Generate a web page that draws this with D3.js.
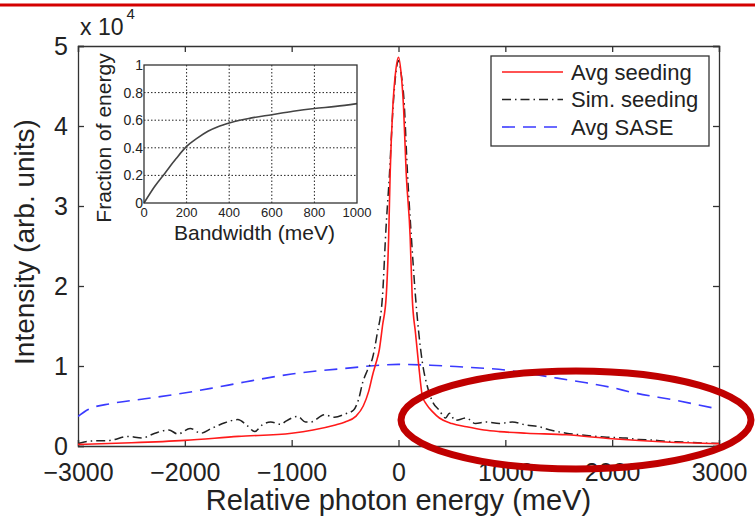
<!DOCTYPE html>
<html>
<head>
<meta charset="utf-8">
<script src="https://cdn.jsdelivr.net/npm/d3@7"></script>
<style>
  html, body { margin: 0; padding: 0; background: #fff; }
  svg { display: block; }
  text { font-family: "Liberation Sans", Arial, Helvetica, sans-serif; fill: #222; }
</style>
</head>
<body>
<svg id="chart" width="755" height="522"></svg>
<script>
// ---------------- DATA ----------------
// Main chart: intensity (x 10^4 arb. units) vs relative photon energy (meV)
const avgSeedX = [-3000,-2500,-2000,-1500,-1000,-800,-600,-500,-400,-330,-280,-240,-210,-180,-150,-115,-92,-78,-53,-25,0,25,47,72,109,128,160,187,224,262,318,383,500,636,800,944,1200,1570,2000,2500,3000];
const avgSeedY = [0.02,0.04,0.07,0.12,0.16,0.2,0.26,0.3,0.37,0.5,0.68,0.9,1.04,1.2,1.5,1.87,2.62,3.41,4.24,4.7,4.86,4.65,4.24,3.41,2.62,1.87,1.4,1.04,0.62,0.52,0.43,0.35,0.28,0.24,0.2,0.18,0.16,0.14,0.09,0.05,0.03];

const simSeedX = [-3000,-2900,-2700,-2533,-2400,-2280,-2150,-2065,-1950,-1850,-1750,-1626,-1505,-1420,-1346,-1280,-1196,-1100,-1065,-944,-870,-822,-692,-600,-500,-420,-370,-336,-290,-243,-200,-150,-118,-84,-55,-28,0,25,50,84,120,159,224,271,320,380,440,477,530,636,720,822,944,1065,1200,1318,1420,1570,1700,1813,1950,2131,2250,2374,2500,2654,2800,3000];
const simSeedY = [0.03,0.06,0.07,0.12,0.1,0.16,0.2,0.15,0.22,0.16,0.22,0.29,0.33,0.26,0.18,0.26,0.3,0.27,0.3,0.37,0.3,0.3,0.39,0.36,0.4,0.45,0.6,0.79,0.95,1.1,1.4,1.87,2.7,3.41,4.15,4.62,4.82,4.65,4.35,3.41,2.62,1.87,1.04,0.74,0.55,0.45,0.35,0.41,0.32,0.35,0.28,0.3,0.28,0.3,0.26,0.24,0.2,0.16,0.14,0.125,0.11,0.1,0.08,0.075,0.06,0.05,0.04,0.03];

const saseX = [-3000,-2900,-2690,-2374,-2065,-1757,-1439,-1000,-500,0,300,570,1000,1383,1757,2000,2187,2598,3000];
const saseY = [0.37,0.46,0.53,0.59,0.65,0.72,0.8,0.9,0.97,1.02,1.01,0.99,0.95,0.87,0.79,0.73,0.67,0.57,0.46];

const xTicks = [-3000,-2000,-1000,0,1000,2000,3000];
const yTicks = [0,1,2,3,4,5];
const legendLabels = ["Avg seeding","Sim. seeding","Avg SASE"];

// Inset: fraction of energy vs bandwidth (meV)
const bwX = [0,50,100,150,200,250,300,350,400,450,500,600,700,800,900,1000];
const fracY = [0,0.12,0.22,0.32,0.41,0.47,0.52,0.555,0.58,0.60,0.615,0.64,0.665,0.685,0.70,0.72];
const insetXTicks = [0,200,400,600,800,1000];
const insetYTicks = [0,0.2,0.4,0.6,0.8,1];

// ---------------- DRAW ----------------
const svg = d3.select("#chart");
const W = 755, H = 522;
const plot = {left: 78, right: 719, top: 46, bottom: 446};

const x = d3.scaleLinear().domain([-3000, 3000]).range([plot.left, plot.right]);
const y = d3.scaleLinear().domain([0, 5]).range([plot.bottom, plot.top]);

svg.append("defs").append("clipPath").attr("id","clipMain")
  .append("rect").attr("x", plot.left).attr("y", plot.top)
  .attr("width", plot.right - plot.left).attr("height", plot.bottom - plot.top);

const axisColor = "#333";
function styleAxis(g, showText) {
  g.select(".domain").attr("stroke", axisColor).attr("stroke-width", 1.3);
  g.selectAll(".tick line").attr("stroke", axisColor).attr("stroke-width", 1.3);
  g.selectAll(".tick text").attr("fill", "#222").style("font-size", "25px")
    .style("font-family", "'Liberation Sans', Arial, sans-serif");
  if (!showText) g.selectAll(".tick text").remove();
}

// axes (MATLAB style: ticks pointing inward, box on)
svg.append("g").attr("transform", `translate(0,${plot.bottom})`)
  .call(d3.axisBottom(x).tickValues(xTicks).tickSize(-6).tickPadding(17)
        .tickFormat(d => d < 0 ? "\u2212" + Math.abs(d) : String(d)))
  .call(g => styleAxis(g, true));
svg.append("g").attr("transform", `translate(0,${plot.top})`)
  .call(d3.axisTop(x).tickValues(xTicks).tickSize(-6))
  .call(g => styleAxis(g, false));
svg.append("g").attr("transform", `translate(${plot.left},0)`)
  .call(d3.axisLeft(y).tickValues(yTicks).tickSize(-6).tickPadding(10).tickFormat(d3.format("d")))
  .call(g => styleAxis(g, true));
svg.append("g").attr("transform", `translate(${plot.right},0)`)
  .call(d3.axisRight(y).tickValues(yTicks).tickSize(-6))
  .call(g => styleAxis(g, false));

// exponent label "x 10^4"
const expo = svg.append("text").attr("x", 80).attr("y", 35).style("font-size", "23px");
expo.append("tspan").text("x 10");
expo.append("tspan").attr("dy", -16).attr("dx", 3).style("font-size", "15px").text("4");

// axis titles
svg.append("text").attr("x", (plot.left + plot.right) / 2).attr("y", 510)
  .attr("text-anchor", "middle").style("font-size", "29px").text("Relative photon energy (meV)");
svg.append("text").attr("transform", `translate(34,${(plot.top + plot.bottom) / 2 - 4}) rotate(-90)`)
  .attr("text-anchor", "middle").style("font-size", "28px").text("Intensity (arb. units)");

// series
const line = d3.line().x(d => x(d[0])).y(d => y(d[1])).curve(d3.curveMonotoneX);
const lines = svg.append("g").attr("clip-path", "url(#clipMain)");

const series = [
  {name: legendLabels[2], xs: saseX, ys: saseY, color: "#3a3aff", dash: "13,8", width: 1.6},
  {name: legendLabels[1], xs: simSeedX, ys: simSeedY, color: "#222", dash: "9,4,1.5,4", width: 1.5},
  {name: legendLabels[0], xs: avgSeedX, ys: avgSeedY, color: "#ff1a1a", dash: null, width: 1.6}
];
series.forEach(s => {
  lines.append("path")
    .datum(d3.zip(s.xs, s.ys))
    .attr("fill", "none")
    .attr("stroke", s.color)
    .attr("stroke-width", s.width)
    .attr("stroke-dasharray", s.dash)
    .attr("d", line);
});

// legend
const lg = svg.append("g");
lg.append("rect").attr("x", 491).attr("y", 56).attr("width", 218).attr("height", 90)
  .attr("fill", "#fff").attr("stroke", axisColor).attr("stroke-width", 1.3);
const legendItems = [series[2], series[1], series[0]];
legendItems.forEach((s, i) => {
  const ly = 72 + i * 27.5;
  lg.append("line").attr("x1", 502).attr("x2", 563).attr("y1", ly).attr("y2", ly)
    .attr("stroke", s.color).attr("stroke-width", s.width)
    .attr("stroke-dasharray", s.dash);
  lg.append("text").attr("x", 571).attr("y", ly).attr("dy", "0.35em")
    .style("font-size", "22px").text(s.name);
});

// ---------------- INSET ----------------
const inset = {left: 144, right: 357, top: 65, bottom: 203};
const ix = d3.scaleLinear().domain([0, 1000]).range([inset.left, inset.right]);
const iy = d3.scaleLinear().domain([0, 1]).range([inset.bottom, inset.top]);
const ig = svg.append("g");
ig.append("rect").attr("x", inset.left).attr("y", inset.top)
  .attr("width", inset.right - inset.left).attr("height", inset.bottom - inset.top)
  .attr("fill", "#fff");
// grid
ig.selectAll(".vgrid").data(insetXTicks.slice(1, -1)).enter().append("line")
  .attr("x1", d => ix(d)).attr("x2", d => ix(d)).attr("y1", inset.top).attr("y2", inset.bottom)
  .attr("stroke", "#222").attr("stroke-width", 1).attr("stroke-dasharray", "1.5,2");
ig.selectAll(".hgrid").data(insetYTicks.slice(1, -1)).enter().append("line")
  .attr("x1", inset.left).attr("x2", inset.right).attr("y1", d => iy(d)).attr("y2", d => iy(d))
  .attr("stroke", "#222").attr("stroke-width", 1).attr("stroke-dasharray", "1.5,2");
// curve
ig.append("path").datum(d3.zip(bwX, fracY))
  .attr("fill", "none").attr("stroke", "#444").attr("stroke-width", 1.6)
  .attr("d", d3.line().x(d => ix(d[0])).y(d => iy(d[1])).curve(d3.curveMonotoneX));
// frame
ig.append("rect").attr("x", inset.left).attr("y", inset.top)
  .attr("width", inset.right - inset.left).attr("height", inset.bottom - inset.top)
  .attr("fill", "none").attr("stroke", axisColor).attr("stroke-width", 1.3);
// tick labels
ig.selectAll(".ixl").data(insetXTicks).enter().append("text")
  .attr("x", d => ix(d)).attr("y", inset.bottom + 14).attr("text-anchor", "middle")
  .style("font-size", "13px").text(d => String(d));
ig.selectAll(".iyl").data(insetYTicks).enter().append("text")
  .attr("x", inset.left - 1).attr("y", d => iy(d)).attr("dy", "0.35em").attr("text-anchor", "end")
  .style("font-size", "14px").text(d => d3.format("")(d));
// inset titles
ig.append("text").attr("x", (inset.left + inset.right) / 2 + 4).attr("y", 240)
  .attr("text-anchor", "middle").style("font-size", "21px").text("Bandwidth (meV)");
ig.append("text").attr("transform", `translate(111,${(inset.top + inset.bottom) / 2 + 4}) rotate(-90)`)
  .attr("text-anchor", "middle").style("font-size", "21px").text("Fraction of energy");

// ---------------- ANNOTATIONS ----------------
svg.append("line").attr("x1", 0).attr("x2", W).attr("y1", 5).attr("y2", 5)
  .attr("stroke", "#d40000").attr("stroke-width", 3);
svg.append("ellipse").attr("cx", 576).attr("cy", 420).attr("rx", 175).attr("ry", 49)
  .attr("fill", "none").attr("stroke", "#c00000").attr("stroke-width", 7);
</script>
</body>
</html>
